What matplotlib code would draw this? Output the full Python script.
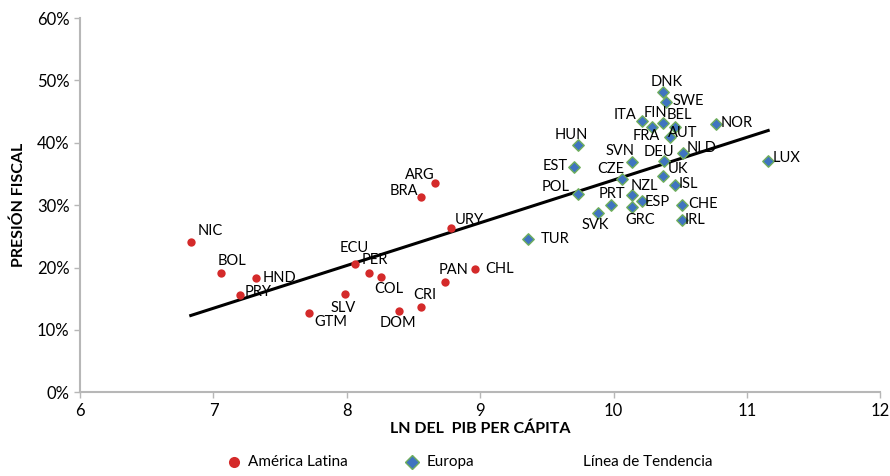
import numpy as np
import matplotlib
matplotlib.use("Agg")
import matplotlib.pyplot as plt
from matplotlib.lines import Line2D

plt.rcParams['font.family'] = ['Lato', 'DejaVu Sans']

# America Latina: ln GDP per capita, tax burden (%)
la_names = ["NIC", "BOL", "HND", "PRY", "GTM", "SLV", "ECU", "PER", "COL", "DOM",
            "CRI", "BRA", "ARG", "URY", "PAN", "CHL"]
la_x = [6.83, 7.06, 7.32, 7.20, 7.72, 7.99, 8.06, 8.17, 8.26, 8.39,
        8.56, 8.56, 8.66, 8.78, 8.74, 8.96]
la_y = [24.1, 19.2, 18.3, 15.6, 12.7, 15.7, 20.6, 19.1, 18.5, 13.0,
        13.6, 31.3, 33.5, 26.3, 17.7, 19.7]

# Europa (OCDE)
eu_names = ["DNK", "SWE", "ITA", "FIN", "FRA", "BEL", "AUT", "NOR", "HUN", "SVN",
            "DEU", "NLD", "LUX", "EST", "CZE", "UK", "ISL", "POL", "NZL", "PRT",
            "ESP", "GRC", "CHE", "IRL", "SVK", "TUR"]
eu_x = [10.37, 10.39, 10.21, 10.37, 10.29, 10.46, 10.42, 10.77, 9.73, 10.14,
        10.38, 10.52, 11.16, 9.70, 10.06, 10.37, 10.46, 9.73, 10.14, 9.98,
        10.21, 10.14, 10.51, 10.51, 9.88, 9.36]
eu_y = [48.1, 46.6, 43.5, 43.1, 42.5, 42.6, 40.9, 43.0, 39.6, 36.9,
        37.1, 38.3, 37.1, 36.1, 34.2, 34.7, 33.3, 31.8, 31.6, 30.1,
        30.6, 29.7, 30.0, 27.6, 28.8, 24.6]

legend_labels = ["América Latina", "Europa", "Línea de Tendencia"]

# label offsets (pixels, text centre relative to marker)
la_off = [(19, 11), (11, 12), (23, 0), (18, 3), (21, -9), (-2, -14), (-1, 16), (5, 13),
          (7, -12), (-1, -12), (3, 12), (-18, 6), (-15, 8), (18, 8), (8, 12), (25, 0)]
eu_off = [(4, 10), (23, 1), (-17, 6), (-7, 10), (-6, -9), (5, 12), (13, 4), (21, 1),
          (-6, 10), (-12, 11), (-5, 9), (19, 5), (18, 3), (-18, 1), (-11, 10), (15, 7),
          (14, 1), (-22, 7), (12, 9), (1, 11), (16, -1), (8, -13), (22, 1), (13, 0),
          (-2, -12), (27, 0)]

# trend line: least squares over both groups
all_x = np.array(la_x + eu_x)
all_y = np.array(la_y + eu_y)
slope, intercept = np.polyfit(all_x, all_y, 1)
tx = np.array([all_x.min(), all_x.max()])
ty = intercept + slope * tx

fig = plt.figure(figsize=(8.9, 4.76), dpi=100)
ax = fig.add_axes([0.09, 0.176, 0.899, 0.786])

red = "#d42a2a"
blue = "#3f74c0"
green = "#6fae5c"

ax.plot(tx, ty, color="black", lw=2.2, zorder=2)
ax.scatter(la_x, la_y, s=36, c=red, marker="o", zorder=3, linewidths=0)
ax.scatter(eu_x, eu_y, s=34, c=blue, marker="D", edgecolors=green, linewidths=1.0, zorder=3)

for names, xs, ys, offs in [(la_names, la_x, la_y, la_off), (eu_names, eu_x, eu_y, eu_off)]:
    for n, x, y, o in zip(names, xs, ys, offs):
        ax.annotate(n, (x, y), xytext=o, textcoords="offset pixels",
                    ha="center", va="center", fontsize=10.5, color="black")

ax.set_xlim(6, 12)
ax.set_ylim(0, 60)
ax.set_xticks(range(6, 13))
ax.set_yticks(range(0, 61, 10))
ax.set_yticklabels([f"{v}%" for v in range(0, 61, 10)])
for s in ["top", "right"]:
    ax.spines[s].set_visible(False)
for s in ["left", "bottom"]:
    ax.spines[s].set_color("#b7b7b7")
    ax.spines[s].set_linewidth(1.5)
ax.tick_params(axis="both", color="#b7b7b7", length=4, width=1)
ax.tick_params(axis="y", labelsize=12)
ax.tick_params(axis="x", labelsize=12)

ax.set_xlabel("LN DEL  PIB PER CÁPITA", fontsize=11.5, fontweight="bold", labelpad=2)
ax.set_ylabel("PRESIÓN FISCAL", fontsize=11.5, fontweight="bold", labelpad=8)

# legend below the plot
ly = 1 - 462 / 476
fig.add_artist(Line2D([234 / 890], [ly], transform=fig.transFigure, marker="o", color="none",
                      markerfacecolor=red, markeredgewidth=0, markersize=8))
fig.add_artist(Line2D([412 / 890], [ly], transform=fig.transFigure, marker="D", color="none",
                      markerfacecolor=blue, markeredgecolor=green, markersize=7))
for xpix, lab in zip([248, 427, 583], legend_labels):
    fig.text(xpix / 890, ly, lab, ha="left", va="center", fontsize=11)

fig.savefig("out.png", dpi=100)
